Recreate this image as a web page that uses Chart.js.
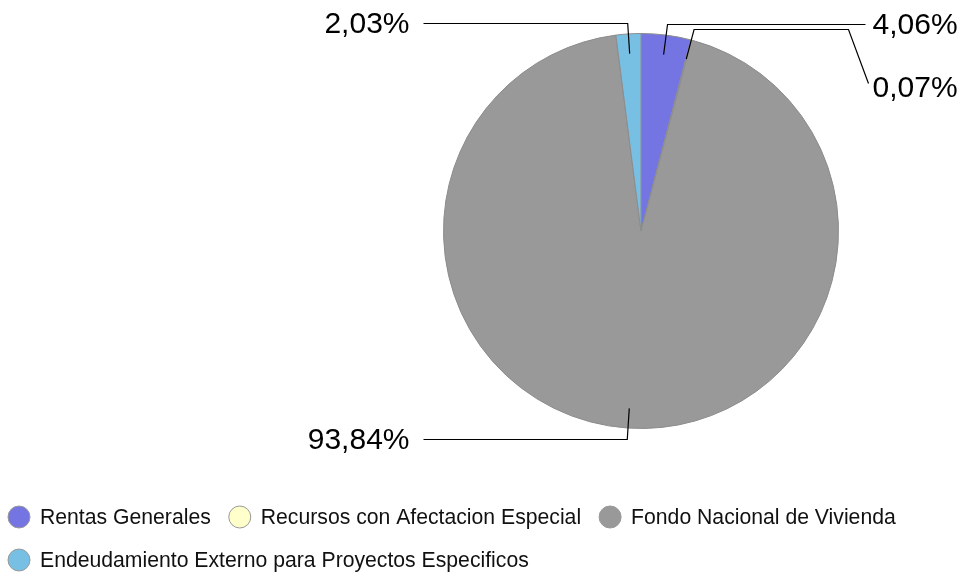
<!DOCTYPE html>
<html>
<head>
<meta charset="utf-8">
<title>Distribucion por fuente de financiamiento</title>
<script src="https://cdn.jsdelivr.net/npm/chart.js@4.4.1/dist/chart.umd.min.js"></script>
<style>
    html, body { margin: 0; padding: 0; background: #ffffff; }
    #wrap { width: 968px; height: 575px; }
</style>
</head>
<body>
<div id="wrap"><canvas id="sourceChart" width="968" height="575"></canvas></div>
<script>
// Shares by funding source (percent)
const categories = [
    'Rentas Generales',
    'Recursos con Afectacion Especial',
    'Fondo Nacional de Vivienda',
    'Endeudamiento Externo para Proyectos Especificos'
];
const shares = [4.06, 0.07, 93.84, 2.03];
const sliceColors = ['#7474e3', '#ffffcc', '#999999', '#78c0e3'];

const LABEL_FONT = '30px "Liberation Sans", Arial, sans-serif';
const LEGEND_FONT = '21.2px "Liberation Sans", Arial, sans-serif';

function pctText(v) {
    return v.toFixed(2).replace('.', ',') + '%';
}

// Outside labels with elbow leader lines
const sliceLabels = {
    id: 'sliceLabels',
    afterDatasetsDraw(chart) {
        const ctx = chart.ctx;
        const meta = chart.getDatasetMeta(0);
        const values = chart.data.datasets[0].data;

        const items = meta.data.map((arc, i) => {
            const p = arc.getProps(['x', 'y', 'startAngle', 'endAngle', 'outerRadius'], true);
            const mid = (p.startAngle + p.endAngle) / 2;
            const c = Math.cos(mid), s = Math.sin(mid);
            const r = p.outerRadius;
            return {
                text: pctText(values[i]),
                cx: p.x, cy: p.y, r: r,
                right: c >= 0,
                p1: { x: p.x + c * r * 0.9, y: p.y + s * r * 0.9 },
                p2: { x: p.x + c * (r + 11), y: Math.round(p.y + s * (r + 11)) + 0.5 }
            };
        });

        // push colliding labels apart on the same side
        const gap = 63;
        [true, false].forEach((side) => {
            const group = items.filter((it) => it.right === side).sort((a, b) => a.p2.y - b.p2.y);
            let prev = null;
            group.forEach((it) => {
                it.textY = it.p2.y;
                if (prev !== null && it.textY < prev + gap) it.textY = prev + gap;
                prev = it.textY;
            });
        });

        ctx.save();
        ctx.strokeStyle = '#000000';
        ctx.lineWidth = 1.2;
        ctx.fillStyle = '#000000';
        ctx.font = LABEL_FONT;
        ctx.textBaseline = 'middle';

        items.forEach((it) => {
            const edge = it.right ? it.cx + it.r : it.cx - it.r;
            const lineEnd = it.right ? edge + 27 : edge - 20;
            const textX = it.right ? edge + 34 : edge - 34;
            const pushed = it.textY !== it.p2.y;

            ctx.beginPath();
            ctx.moveTo(it.p1.x, it.p1.y);
            ctx.lineTo(it.p2.x, it.p2.y);
            if (pushed) {
                const bend = it.right ? edge + 10 : edge - 10;
                ctx.lineTo(bend, it.p2.y);
                ctx.lineTo(it.right ? textX - 4 : textX + 4, it.textY - 4);
            } else {
                ctx.lineTo(lineEnd, it.p2.y);
            }
            ctx.stroke();

            ctx.textAlign = it.right ? 'left' : 'right';
            ctx.fillText(it.text, textX, it.textY + 1.5);
        });
        ctx.restore();
    }
};

// Left aligned legend with round markers, wrapping rows
const roundLegend = {
    id: 'roundLegend',
    afterDraw(chart) {
        const ctx = chart.ctx;
        const colors = chart.data.datasets[0].backgroundColor;
        const startX = 19;
        const rowGap = 43;
        const markR = 11;
        let cx = startX;
        let cy = 517;

        ctx.save();
        ctx.font = LEGEND_FONT;
        ctx.textBaseline = 'middle';
        ctx.textAlign = 'left';
        chart.data.labels.forEach((label, i) => {
            const w = ctx.measureText(label).width;
            if (cx !== startX && cx + 21 + w > chart.width - 10) {
                cx = startX;
                cy += rowGap;
            }
            ctx.beginPath();
            ctx.arc(cx, cy, markR, 0, Math.PI * 2);
            ctx.fillStyle = colors[i];
            ctx.fill();
            ctx.lineWidth = 1;
            ctx.strokeStyle = '#999999';
            ctx.stroke();

            ctx.fillStyle = '#111111';
            ctx.fillText(label, cx + 21, cy + 1);
            cx += 21 + w + 29;
        });
        ctx.restore();
    }
};

document.addEventListener('DOMContentLoaded', function () {
    const canvas = document.getElementById('sourceChart');
    new Chart(canvas, {
        type: 'pie',
        data: {
            labels: categories,
            datasets: [{
                data: shares,
                backgroundColor: sliceColors,
                borderColor: '#8c8c8c',
                borderWidth: 1
            }]
        },
        options: {
            responsive: false,
            animation: false,
            layout: {
                padding: { left: 443, right: 129, top: 33, bottom: 146 }
            },
            plugins: {
                legend: { display: false },
                tooltip: { enabled: false }
            }
        },
        plugins: [sliceLabels, roundLegend]
    });
});
</script>
</body>
</html>
